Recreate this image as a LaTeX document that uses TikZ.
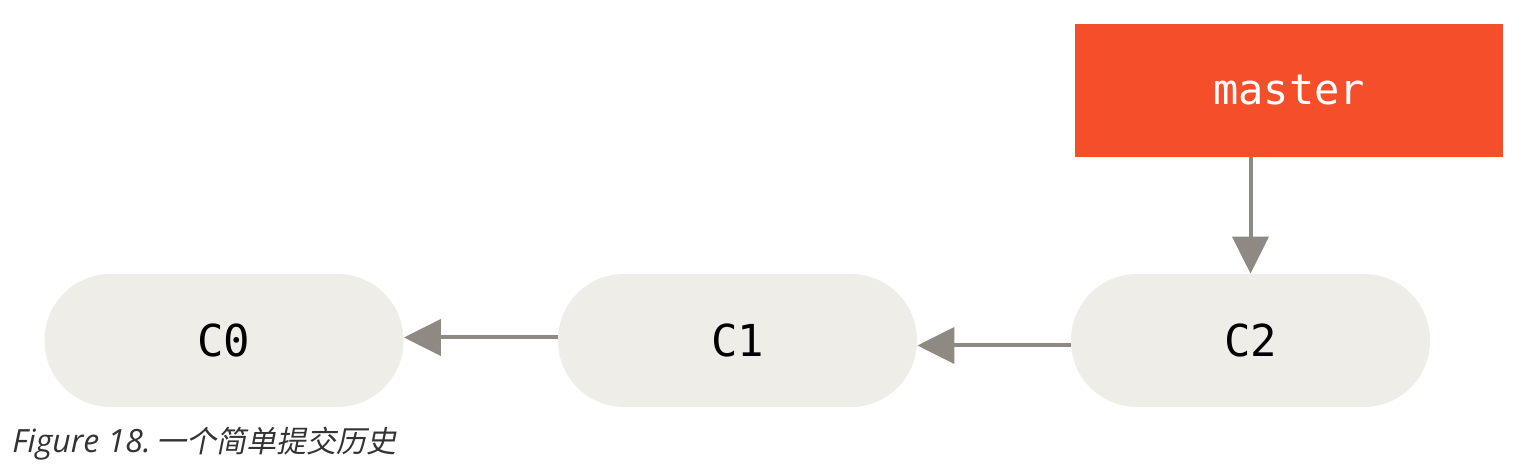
\documentclass[tikz,border=0pt]{standalone}
\usepackage{fontspec}
\setmonofont{DejaVu Sans Mono}
\setsansfont{Open Sans}
\newfontfamily\cjkit[FakeSlant=0.2]{Noto Sans CJK SC}
\usetikzlibrary{arrows.meta}
\definecolor{branchred}{HTML}{F44E2A}
\definecolor{commitfill}{HTML}{EEEDE7}
\definecolor{arrowgray}{HTML}{8F8983}
\definecolor{captiongray}{HTML}{333333}
\tikzset{
  commit/.style={rectangle, rounded corners=33pt, fill=commitfill, minimum width=179.5pt, minimum height=66.5pt, inner sep=0pt, font=\ttfamily\fontsize{22}{26}\selectfont, text=black},
  branch/.style={rectangle, fill=branchred, minimum width=214pt, minimum height=66.5pt, inner sep=0pt, font=\ttfamily\fontsize{21}{25}\selectfont, text=white},
  arr/.style={draw=arrowgray, line width=2pt, -{Triangle[length=18.5pt,width=18pt]}, fill=arrowgray},
}
\begin{document}
\begin{tikzpicture}[x=0.5pt,y=-0.5pt]
\useasboundingbox (0,0) rectangle (1528,470);
\node[commit] (c0) at (224,340.5) {C0};
\node[commit] (c1) at (737.5,340.5) {C1};
\node[commit] (c2) at (1250.5,340.5) {C2};
\node[branch] (master) at (1289,90.5) {master};
\draw[arr] ([yshift=1.5pt]c1.west) -- ([yshift=1.5pt]c0.east);
\draw[arr] ([yshift=-2.5pt]c2.west) -- ([yshift=-2.5pt]c1.east);
\draw[arr] (c2.north |- master.south) -- (c2.north);
\node[anchor=base west, inner sep=0pt, text=captiongray, font=\sffamily\itshape\fontsize{16}{20}\selectfont] (cap) at (12,452) {Figure 18.\hspace{3pt}{\cjkit\fontsize{15}{20}\selectfont 一个简单提交历史}};
\end{tikzpicture}
\end{document}
